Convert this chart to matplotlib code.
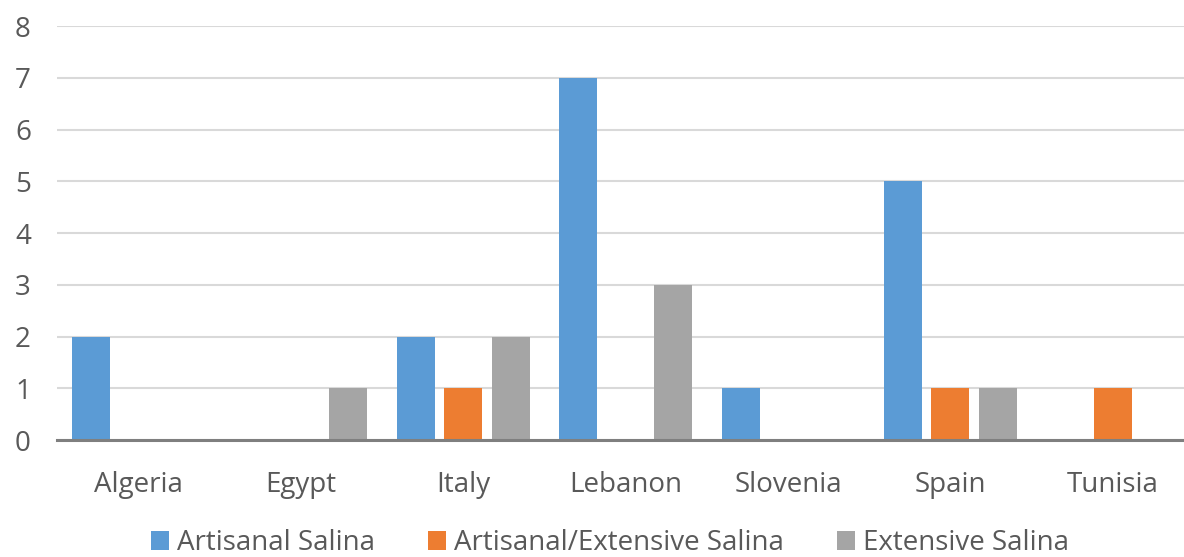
import matplotlib
matplotlib.use("Agg")
import matplotlib.pyplot as plt
import numpy as np

categories = ["Algeria", "Egypt", "Italy", "Lebanon", "Slovenia", "Spain", "Tunisia"]
series_names = ["Artisanal Salina", "Artisanal/Extensive Salina", "Extensive Salina"]
artisanal = [2, 0, 2, 7, 1, 5, 0]
artisanal_extensive = [0, 0, 1, 0, 0, 1, 1]
extensive = [0, 1, 2, 3, 0, 1, 0]
colors = ["#5B9BD5", "#ED7D31", "#A5A5A5"]
yticks = [0, 1, 2, 3, 4, 5, 6, 7, 8]

plt.rcParams['font.family'] = ['Open Sans', 'DejaVu Sans']

fig = plt.figure(figsize=(11.84, 5.57), dpi=100)
ax = fig.add_axes([0.0484, 0.210, 0.960, 0.743])

x = np.arange(len(categories))
w = 0.234
off = 0.292
for i, (vals, name, c) in enumerate(zip([artisanal, artisanal_extensive, extensive], series_names, colors)):
    ax.bar(x + (i - 1) * off, vals, width=w, color=c, label=name, zorder=3)

ax.set_xlim(-0.5, len(categories) - 0.5)
ax.set_ylim(0, 8)
ax.set_yticks(yticks)
ax.set_xticks(x)
ax.set_xticklabels(categories)
ax.tick_params(axis='both', length=0, labelsize=20, colors="#595959")
ax.tick_params(axis='x', pad=22)
ax.tick_params(axis='y', pad=19)
for s in ["top", "right", "left"]:
    ax.spines[s].set_visible(False)
ax.spines["bottom"].set_color("#7F7F7F")
ax.spines["bottom"].set_linewidth(2.2)
ax.spines["bottom"].set_zorder(4)
ax.yaxis.grid(True, color="#D9D9D9", linewidth=1.5, zorder=0)
ax.set_axisbelow(True)

leg = fig.legend(loc="center", bbox_to_anchor=(0.515, 0.025), ncol=3, frameon=False,
                 fontsize=20, handlelength=0.65, handleheight=0.65, handletextpad=0.29,
                 columnspacing=1.9, borderpad=0)
for t in leg.get_texts():
    t.set_color("#595959")

fig.savefig("out.png", dpi=100)
